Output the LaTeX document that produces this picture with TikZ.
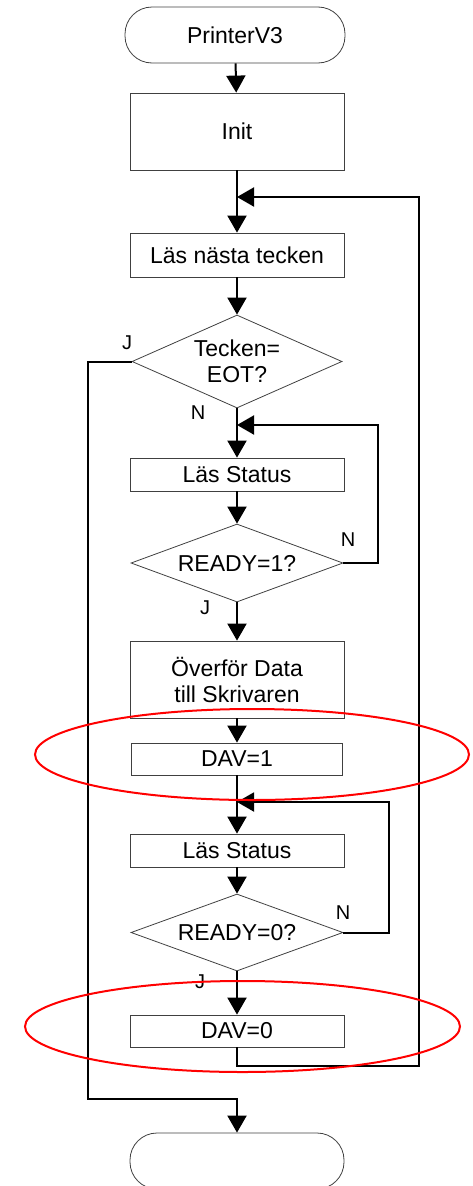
\documentclass[tikz,border=0pt]{standalone}
\usepackage{fontspec}
\setmainfont{Liberation Sans}
\usepackage{tikz}
\usetikzlibrary{arrows.meta,shapes.geometric}

\begin{document}
\begin{tikzpicture}[x=1pt,y=-1pt,
    box/.style={draw=black!75, line width=0.8pt, minimum width=214pt, inner sep=0pt,
        align=center, font=\fontsize{23}{26}\selectfont},
    terminal/.style={box, rounded corners=27pt, minimum height=56pt},
    process/.style={box, rectangle},
    decision/.style={box, diamond, aspect=2.7, minimum width=212pt},
    flow/.style={line width=2pt, -{Triangle[length=17pt,width=19pt]}},
    answer/.style={font=\fontsize{20}{24}\selectfont, inner sep=0pt},
    ring/.style={draw=red, line width=2pt}]
    \clip (0,0) rectangle (473,1186);

    % Define the blocks
    \node[terminal, minimum width=220pt] (start) at (235,35) {PrinterV3};
    \node[process, minimum height=77pt] (init) at (237,131.5) {Init};
    \node[process, minimum height=44pt] (read) at (237,255) {Läs nästa tecken};
    \node[decision, minimum width=210pt, minimum height=93pt] (eot) at (237,361.5) {Tecken=\\EOT?};
    \node[process, minimum height=33pt] (stat1) at (237,474.5) {Läs Status};
    \node[decision, minimum height=78pt] (ready1) at (237,563) {READY=1?};
    \node[process, minimum height=77pt] (send) at (237,679.5) {Överför Data\\till Skrivaren};
    \node[process, minimum height=32pt, minimum width=211pt] (dav1) at (237,759) {DAV=1};
    \node[process, minimum height=33pt] (stat2) at (237,850.5) {Läs Status};
    \node[decision, minimum height=77pt] (ready0) at (237,932.5) {READY=0?};
    \node[process, minimum height=32pt] (dav0) at (237,1031) {DAV=0};
    \node[terminal] (stop) at (237,1161) {};

    % Corner points of the loops
    \coordinate (join1) at (237,197);
    \coordinate (ret1) at (419,1066);
    \coordinate (join2) at (237,425);
    \coordinate (turn2) at (378,425);
    \coordinate (join3) at (237,802);
    \coordinate (turn3) at (389,802);
    \coordinate (exit) at (88,1099);

    % Draw the main flow
    \draw[flow] (start) -- (init);
    \draw[flow] (init) -- (read);
    \draw[flow] (read) -- (eot);
    \draw[flow] (eot) -- (stat1);
    \draw[flow] (stat1) -- (ready1);
    \draw[flow] (ready1) -- (send);
    \draw[flow] (send) -- (dav1);
    \draw[flow] (dav1) -- (stat2);
    \draw[flow] (stat2) -- (ready0);
    \draw[flow] (ready0) -- (dav0);

    % Draw the loops
    \draw[flow] (ready1.east) -| (turn2) -- (join2);
    \draw[flow] (ready0.east) -| (turn3) -- (join3);
    \draw[flow] (dav0.south) |- (ret1) |- (join1);
    \draw[flow] (eot.west) -| (exit) -| (stop.north);

    % Labels for the answers
    \node[answer] (j1) at (127,343) {J};
    \node[answer] (n1) at (198,413) {N};
    \node[answer] (n2) at (348,540) {N};
    \node[answer] (j2) at (205,608) {J};
    \node[answer] (n3) at (343,913) {N};
    \node[answer] (j3) at (200,982) {J};

    % Red rings round the DAV blocks
    \draw[ring] (252,754.5) ellipse [x radius=217pt, y radius=45.5pt];
    \draw[ring] (242.5,1026.5) ellipse [x radius=217.5pt, y radius=45.5pt];
\end{tikzpicture}
\end{document}
